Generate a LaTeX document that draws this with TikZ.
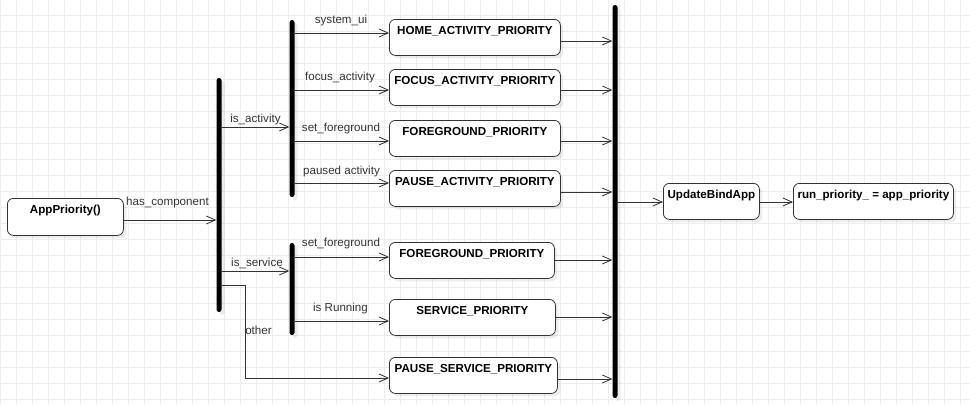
\documentclass[tikz,border=0pt]{standalone}
\usepackage{fontspec}
\setmainfont{Liberation Sans}
\usetikzlibrary{arrows.meta,shadows}
\definecolor{edgec}{HTML}{333333}
\definecolor{gridc}{HTML}{EDEDED}
\begin{document}
\begin{tikzpicture}[x=1pt,y=-1pt,
  font=\fontsize{11.6}{13}\selectfont,
  shade box/.style={drop shadow={shadow xshift=3pt,shadow yshift=-3pt,fill=black,opacity=0.07}},
  box/.style={draw=edgec, line width=0.8pt, rounded corners=6pt, fill=white,
    anchor=north west, minimum height=36pt, inner xsep=0pt, inner ysep=0pt,
    text height=15.5pt, text depth=20.5pt, text=black,
    font=\fontsize{11.6}{13}\selectfont\bfseries, shade box},
  barnode/.style={fill=black, draw=none, minimum width=5pt, inner sep=0pt,
    rounded corners=2.5pt, shade box},
  arr/.style={draw=edgec, line width=0.8pt, -{Straight Barb[length=9pt,width=8pt]}},
  lab/.style={text=edgec, inner sep=0pt}]
\useasboundingbox (0,0) rectangle (970,405);
\fill[white] (0,0) rectangle (970,405);
% grid
\foreach \x in {0,16,...,960} \draw[gridc, line width=1pt] (\x,0) -- (\x,405);
\foreach \y in {15,31,...,399} \draw[gridc, line width=1pt] (0,\y) -- (970,\y);

% level coordinates
\coordinate (yHC) at (0,220);
\coordinate (yIA) at (0,127);
\coordinate (yIS) at (0,271);
\coordinate (yOT) at (0,285);
\coordinate (yOB) at (0,378);
\coordinate (i1) at (0,33);
\coordinate (i2) at (0,90);
\coordinate (i3) at (0,141);
\coordinate (i4) at (0,183);
\coordinate (i5) at (0,257);
\coordinate (i6) at (0,321);
\coordinate (o1) at (0,41);
\coordinate (o2) at (0,90);
\coordinate (o3) at (0,141);
\coordinate (o4) at (0,192);
\coordinate (o5) at (0,260);
\coordinate (o6) at (0,317);
\coordinate (o7) at (0,379);
\coordinate (yUB) at (0,202);
\coordinate (oc) at (245,285);

% bars
\node[barnode, minimum height=234pt] (b1) at (219,195) {};
\node[barnode, minimum height=177pt] (b2) at (292,108.5) {};
\node[barnode, minimum height=92pt] (b3) at (292,289) {};
\node[barnode, minimum height=393pt] (b4) at (615,201.5) {};

% boxes
\node[box, minimum width=116pt, minimum height=37pt, text depth=21.5pt] (app) at (7,198) {AppPriority()};
\node[box, minimum width=171pt] (home) at (389,19) {HOME\_ACTIVITY\_PRIORITY};
\node[box, minimum width=171pt] (focus) at (389,69) {FOCUS\_ACTIVITY\_PRIORITY};
\node[box, minimum width=171pt] (fga) at (389,120) {FOREGROUND\_PRIORITY};
\node[box, minimum width=171pt] (pact) at (389,170) {PAUSE\_ACTIVITY\_PRIORITY};
\node[box, minimum width=165pt] (fgs) at (389,242) {FOREGROUND\_PRIORITY};
\node[box, minimum width=166pt] (serv) at (389,299) {SERVICE\_PRIORITY};
\node[box, minimum width=168pt] (pserv) at (389,357) {PAUSE\_SERVICE\_PRIORITY};
\node[box, minimum width=96pt] (upd) at (663,183) {UpdateBindApp};
\node[box, minimum width=160pt] (run) at (793,183) {run\_priority\_ = app\_priority};

% connectors
\draw[arr] (app.east |- yHC) -- (b1.west |- yHC);
\draw[arr] (b1.east |- yIA) -- (b2.west |- yIA);
\draw[arr] (b1.east |- yIS) -- (b3.west |- yIS);
\draw[arr] (b1.east |- yOT) -- (oc) |- (pserv.west |- yOB);

\draw[arr] (b2.east |- i1) -- (home.west |- i1);
\draw[arr] (b2.east |- i2) -- (focus.west |- i2);
\draw[arr] (b2.east |- i3) -- (fga.west |- i3);
\draw[arr] (b2.east |- i4) -- (pact.west |- i4);
\draw[arr] (b3.east |- i5) -- (fgs.west |- i5);
\draw[arr] (b3.east |- i6) -- (serv.west |- i6);

\draw[arr] (home.east |- o1) -- (b4.west |- o1);
\draw[arr] (focus.east |- o2) -- (b4.west |- o2);
\draw[arr] (fga.east |- o3) -- (b4.west |- o3);
\draw[arr] (pact.east |- o4) -- (b4.west |- o4);
\draw[arr] (fgs.east |- o5) -- (b4.west |- o5);
\draw[arr] (serv.east |- o6) -- (b4.west |- o6);
\draw[arr] (pserv.east |- o7) -- (b4.west |- o7);

\draw[arr] (b4.east |- yUB) -- (upd.west |- yUB);
\draw[arr] (upd.east |- yUB) -- (run.west |- yUB);

% labels
\node[lab] (lhc) at (167.5,202) {has\_component};
\node[lab] (lia) at (255.5,119) {is\_activity};
\node[lab] (lis) at (257,263) {is\_service};
\node[lab] (lot) at (258.5,330) {other};
\node[lab] (lsu) at (341,20) {system\_ui};
\node[lab] (lfa) at (340,77) {focus\_activity};
\node[lab] (lsf) at (341,128) {set\_foreground};
\node[lab] (lpa) at (341.5,171) {paused activity};
\node[lab] (lsf2) at (341,243) {set\_foreground};
\node[lab] (lir) at (340.5,308) {is Running};
\end{tikzpicture}
\end{document}
